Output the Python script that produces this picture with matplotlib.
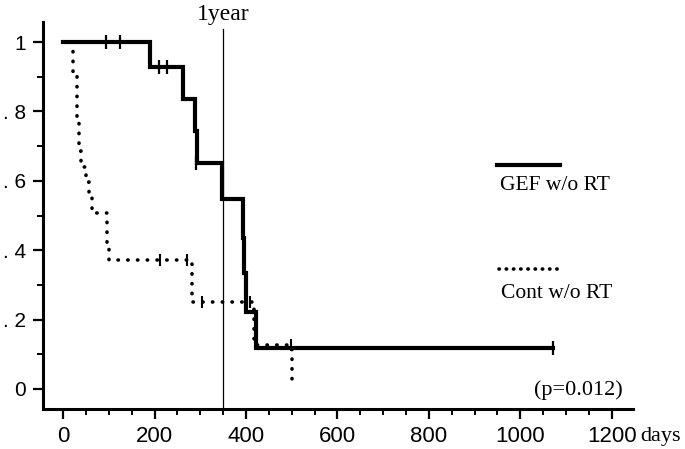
import numpy as np
import matplotlib.pyplot as plt
from matplotlib.lines import Line2D
from matplotlib.ticker import MultipleLocator

# Kaplan-Meier steps (days, survival)
gef_t = [0, 190, 263, 288, 292, 348, 393, 396, 400, 422]
gef_s = [1.0, 0.928, 0.836, 0.743, 0.651, 0.547, 0.435, 0.334, 0.222, 0.118]
gef_end = 1071
gef_cens_t = [94, 125, 210, 228, 290, 1071]
gef_cens_s = [1.0, 1.0, 0.928, 0.928, 0.651, 0.118]

cont_t = [0, 22, 31, 35, 39, 49, 57, 63, 96, 100, 282, 418, 500]
cont_s = [1.0, 0.91, 0.775, 0.686, 0.64, 0.597, 0.553, 0.507, 0.41, 0.372, 0.25, 0.127, 0.01]
cont_end = 500
cont_cens_t = [212, 271, 304, 408, 498]
cont_cens_s = [0.372, 0.372, 0.25, 0.25, 0.127]

one_year = 350
x_ticks = [0, 200, 400, 600, 800, 1000, 1200]
y_ticks = [0, 0.2, 0.4, 0.6, 0.8, 1.0]
y_labels = ['0', '. 2', '. 4', '. 6', '. 8', '1']

SERIF = 'Liberation Serif'
SANS = 'Liberation Sans'
DOTS = (0, (0.1, 2.6))

fig = plt.figure(figsize=(6.85, 4.49), dpi=100)
ax = fig.add_axes([0.0628, 0.089, 0.861, 0.862])

# curvas
ax.step(gef_t + [gef_end], gef_s + [gef_s[-1]], where='post', color='black',
        linewidth=3.0, solid_joinstyle='miter', zorder=3)
ax.step(cont_t + [cont_end], cont_s + [cont_s[-1]], where='post', color='black',
        linewidth=2.6, linestyle=DOTS, dash_capstyle='round', zorder=2)

# marcas de censura
ax.plot(gef_cens_t, gef_cens_s, linestyle='none', marker='|', markersize=10,
        markeredgewidth=1.6, color='black', zorder=4)
ax.plot(cont_cens_t, cont_cens_s, linestyle='none', marker='|', markersize=8,
        markeredgewidth=1.5, color='black', zorder=4)

# linea de 1 año
ax.plot([one_year, one_year], [-0.06, 1.037], color='black', linewidth=0.9, zorder=1)
ax.text(one_year, 1.05, '1year', ha='center', va='bottom', fontsize=17,
        family=SERIF, clip_on=False)

ax.set_xlim(-44, 1246)
ax.set_ylim(-0.058, 1.058)

ax.spines['top'].set_visible(False)
ax.spines['right'].set_visible(False)
ax.spines['left'].set_linewidth(2.2)
ax.spines['bottom'].set_linewidth(2.2)

ax.set_xticks(x_ticks)
ax.set_xticklabels([str(v) for v in x_ticks], fontsize=16, family=SANS)
ax.set_yticks(y_ticks)
ax.set_yticklabels(y_labels, fontsize=15, family=SANS)
ax.xaxis.set_minor_locator(MultipleLocator(50))
ax.yaxis.set_minor_locator(MultipleLocator(0.1))
ax.tick_params(which='major', length=7, width=1.6, direction='out')
ax.tick_params(axis='x', which='major', pad=5)
ax.tick_params(axis='y', which='major', pad=5)
ax.tick_params(which='minor', length=4, width=1.4, direction='out')

fig.text(640 / 685, 1 - 437 / 449, 'days', ha='left', va='center', fontsize=16, family=SERIF)
fig.text(623 / 685, 1 - 390 / 449, '(p=0.012)', ha='right', va='center',
         fontsize=16, family=SERIF)

# leyenda manual
fig.add_artist(Line2D([497 / 685, 560 / 685], [1 - 165 / 449] * 2, color='black', linewidth=3.0))
fig.text(500 / 685, 1 - 186 / 449, 'GEF w/o RT', ha='left', va='center', fontsize=15.5, family=SERIF)
fig.add_artist(Line2D([499 / 685, 563 / 685], [1 - 269 / 449] * 2, color='black', linewidth=2.6,
                      linestyle=(0, (0.1, 1.9)), dash_capstyle='round'))
fig.text(501 / 685, 1 - 293 / 449, 'Cont w/o RT', ha='left', va='center', fontsize=15.5, family=SERIF)

fig.savefig('out.png', dpi=100)
plt.close(fig)
